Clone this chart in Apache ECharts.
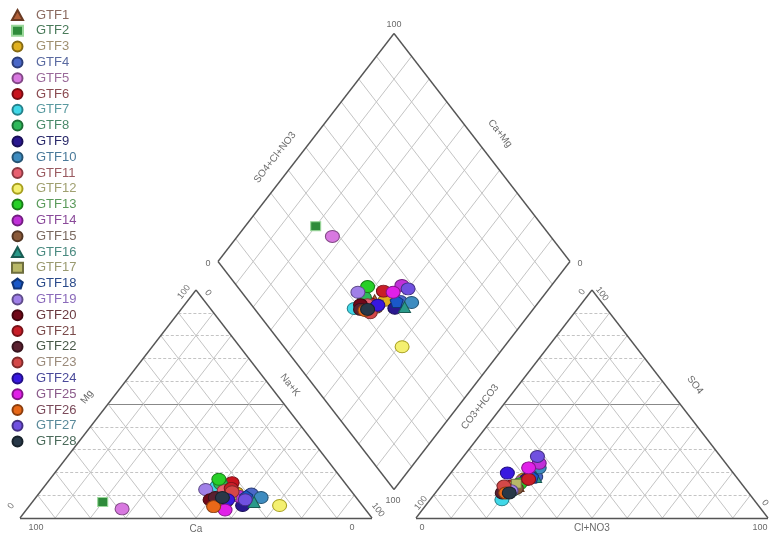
<!DOCTYPE html>
<html><head><meta charset="utf-8">
<script src="https://cdn.jsdelivr.net/npm/echarts@6/dist/echarts.min.js"></script>
<style>html,body{margin:0;padding:0;background:#fff}#c{width:769px;height:535px}</style>
</head><body><div id="c"></div>
<script>
// ---------- DATA (percent of meq) ----------
const samples = ['GTF1','GTF2','GTF3','GTF4','GTF5','GTF6','GTF7','GTF8','GTF9','GTF10','GTF11','GTF12','GTF13','GTF14','GTF15','GTF16','GTF17','GTF18','GTF19','GTF20','GTF21','GTF22','GTF23','GTF24','GTF25','GTF26','GTF27','GTF28'];
const caPct  = [38, 73, 33, 29, 69, 32, 37, 35.5, 34, 27, 36, 23.5, 35, 33, 38, 30, 35, 31, 41, 42, 33.5, 40, 34, 37, 40, 42.5, 32, 38];
const mgPct  = [9, 7, 11, 10.5, 4, 15.5, 14, 15, 5.5, 9, 12, 5.5, 17, 9.5, 7, 7, 10, 9.5, 12.5, 8, 13, 9, 11.5, 8, 3.5, 5, 8, 9];
const so4Pct = [14, 14, 17, 18, 16, 14, 8, 12.3, 17, 22, 13, 13, 15, 24, 13, 18, 15, 18, 12, 12, 17, 11, 14, 19.7, 22, 11, 27, 11];
const clPct  = [22, 21.5, 22, 25, 22, 20, 20.4, 21.4, 23, 24, 20, 20.6, 22, 23, 22, 25, 21, 24, 21, 19, 23.5, 19, 18, 16.1, 21, 20, 21, 21];
const tickLow = '0', tickHigh = '100';
const axisTitles = ['Ca','Mg','Na+K','Cl+NO3','SO4','CO3+HCO3','SO4+Cl+NO3','Ca+Mg'];

// ---------- STYLE ----------
const colors = ['#b0603a','#2e8b3a','#e0b020','#4a68c8','#d878e0','#c8141e','#40d8e8','#2fb85a','#2a1890','#3e8cc0','#e86070','#f4f070','#28d028','#c030d8','#8a5a3a','#2a9a8a','#b8b868','#1a58c8','#a080e8','#700818','#c81e28','#5a2030','#d44848','#3818e0','#e020e8','#e86818','#7050e0','#283848'];
const textColors = ['#8b6b60','#4a7a5a','#a09070','#5a6aa0','#9a6a9a','#8a4a50','#5a9aa0','#4a8a6a','#2a2a6a','#4a7a9a','#9a5a60','#a0a070','#5a9a5a','#8a4a9a','#7a6a60','#4a8a80','#9a9a70','#2a4a8a','#8a6aba','#6a3a40','#7a4a4a','#4a5a4a','#9a8a7a','#4a4a9a','#8a5a8a','#7a4a5a','#5a8a9a','#4a6a5a'];
const PENT = 'path://M0,-10L9.51,-3.09L5.88,8.09L-5.88,8.09L-9.51,-3.09Z';
function symOf(i){ if(i===0||i===15) return 'triangle'; if(i===1||i===16) return 'rect'; if(i===17) return PENT; return 'circle'; }
function sizeOf(i){ const s=symOf(i); if(s==='rect') return [10,9]; if(s==='triangle') return [12,11]; if(s===PENT) return [13,12]; return [14,12]; }
function darken(hex, f){ const n=parseInt(hex.slice(1),16); const r=(n>>16)&255,g=(n>>8)&255,b=n&255; const m=v=>Math.round(v*f); return 'rgb('+m(r)+','+m(g)+','+m(b)+')'; }
function borderOf(i){ if(i===1) return '#9ad89a'; if(i===11) return '#a8a020'; return darken(colors[i],0.6); }

// ---------- GEOMETRY (units: triangle side = 100) ----------
const GAP = 12.5, H = Math.sqrt(3)/2*100;
const X0R = 100 + GAP;
const DB = [100 + GAP/2, GAP*Math.sqrt(3)/2];
const XMAX = 200 + GAP, YMAX = DB[1] + 2*H;
const PX = 748/XMAX, PY = 484.5/YMAX;
function cation(ca, mg){ const na = 100-ca-mg; return [na + mg/2, mg*H/100]; }
function anion(so4, cl){ return [X0R + cl + so4/2, so4*H/100]; }
function diamond(caMg, so4Cl){ return [DB[0] + 0.5*(so4Cl - caMg), DB[1] + (so4Cl + caMg)*H/100]; }
const DT=[DB[0],DB[1]+2*H], DL=[DB[0]-50,DB[1]+H], DR=[DB[0]+50,DB[1]+H];

const gridC='#c4c4c4', edgeC='#555';
const segs=[];
function seg(a,b,st){ segs.push({coords:[a,b], lineStyle:st}); }
const thin={color:gridC,width:1,type:'solid'};
const dash={color:gridC,width:1,type:[3,2]};
const mid={color:'#888',width:1,type:'solid'};
[0, X0R].forEach(ox=>{
  for(let i=1;i<=9;i++){
    const t=i*10;
    seg([ox+t/2,t*H/100],[ox+100-t/2,t*H/100], i===5?mid:dash);
    seg([ox+t,0],[ox+t+(100-t)/2,(100-t)*H/100], thin);
    seg([ox+t,0],[ox+t/2,t*H/100], thin);
  }
});
for(let i=1;i<=9;i++){
  const k=i/10;
  const P=[DB[0]+k*(DL[0]-DB[0]), DB[1]+k*(DL[1]-DB[1])];
  seg(P,[P[0]+(DR[0]-DB[0]),P[1]+(DR[1]-DB[1])],thin);
  const Q=[DB[0]+k*(DR[0]-DB[0]), DB[1]+k*(DR[1]-DB[1])];
  seg(Q,[Q[0]+(DL[0]-DB[0]),Q[1]+(DL[1]-DB[1])],thin);
}
const edges=[];
function poly(pts){ for(let i=0;i<pts.length;i++) edges.push({coords:[pts[i],pts[(i+1)%pts.length]]}); }
poly([[0,0],[100,0],[50,H]]);
poly([[X0R,0],[X0R+100,0],[X0R+50,H]]);
poly([DB,DR,DT,DL]);

function at(p, dx, dy){ return [p[0]+dx/PX, p[1]-dy/PY]; }
const labs=[
  [tickHigh, at([0,0],16,10),0,9],
  [tickLow, at([0,0],-9,-12),52,9],
  [axisTitles[0], at([50,0],0,11),0,10],
  [tickLow, at([100,0],-20,10),0,9],
  [tickHigh, at([100,0],6,-8),-52,9],
  [tickHigh, at([50,H],-12,2),52,9],
  [tickLow, at([50,H],12,3),-52,9],
  [axisTitles[1], at([25,H/2],-21,-7),52,10],
  [axisTitles[2], at([75,H/2],6,-19),-52,10],
  [tickLow, at([X0R,0],6,10),0,9],
  [tickHigh, at([X0R,0],5,-15),52,9],
  [axisTitles[3], at([X0R+50,0],0,10),0,10],
  [tickHigh, at([X0R+100,0],-8,10),0,9],
  [tickLow, at([X0R+100,0],-3,-15),-52,9],
  [tickLow, at([X0R+50,H],-10,2),52,9],
  [tickHigh, at([X0R+50,H],10,4),-52,9],
  [axisTitles[4], at([X0R+75,H/2],15,-19),-52,10],
  [axisTitles[5], at([X0R+25,H/2],-24,3),52,10],
  [tickHigh, at(DT,0,-9),0,9],
  [tickLow, at(DL,-10,2),0,9],
  [tickLow, at(DR,10,2),0,9],
  [tickHigh, at(DB,-1,11),0,9],
  [axisTitles[6], at([(DL[0]+DT[0])/2,(DL[1]+DT[1])/2],-31,10),52,10],
  [axisTitles[7], at([(DR[0]+DT[0])/2,(DR[1]+DT[1])/2],18,-14),-52,10]
];

const series=[
  {type:'lines',coordinateSystem:'cartesian2d',polyline:false,silent:true,clip:false,z:1,data:segs,lineStyle:{color:gridC,width:1,opacity:1}},
  {type:'lines',coordinateSystem:'cartesian2d',polyline:false,silent:true,clip:false,z:2,data:edges,lineStyle:{color:edgeC,width:1.4,opacity:1}},
  {type:'scatter',name:'__labels',silent:true,clip:false,z:3,symbolSize:0,
   data:labs.map(l=>({name:l[0],value:l[1],label:{rotate:l[2],fontSize:l[3]}})),
   label:{show:true,position:'inside',formatter:p=>p.name,color:'#444',fontFamily:'Liberation Sans',align:'center',verticalAlign:'middle'}}
];
samples.forEach((name,i)=>{
  const ca=caPct[i], mg=mgPct[i], so4=so4Pct[i], cl=clPct[i];
  series.push({type:'scatter',name:name,z:5,clip:false,symbol:symOf(i),symbolSize:sizeOf(i),
    itemStyle:{color:colors[i],borderColor:borderOf(i),borderWidth:1,opacity:1},
    data:[cation(ca,mg), anion(so4,cl), diamond(ca+mg, so4+cl)]});
});

const chart=echarts.init(document.getElementById('c'),null,{renderer:'canvas'});
chart.setOption({
  animation:false,
  backgroundColor:'#fff',
  grid:{left:20,top:33.5,width:748,height:484.5},
  xAxis:{type:'value',min:0,max:XMAX,show:false},
  yAxis:{type:'value',min:0,max:YMAX,show:false},
  legend:{orient:'vertical',left:11,top:8.5,padding:0,itemWidth:11,itemHeight:10,itemGap:2.8,
    textStyle:{fontFamily:'Liberation Sans',fontSize:13,padding:[0,0,0,8]},
    data:samples.map((n,i)=>({name:n,textStyle:{color:textColors[i]}}))},
  series:series
});
</script></body></html>
